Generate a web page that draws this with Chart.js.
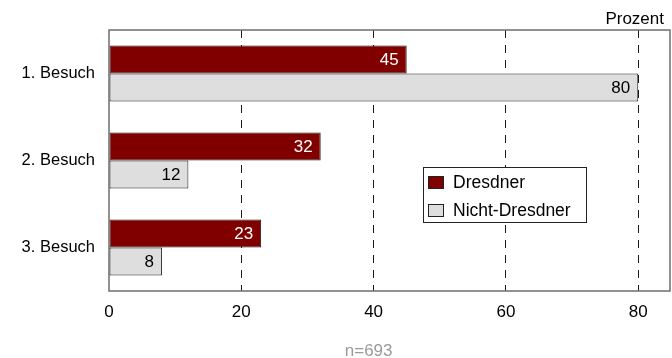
<!DOCTYPE html>
<html>
<head>
<meta charset="utf-8">
<script src="https://cdn.jsdelivr.net/npm/chart.js@4/dist/chart.umd.min.js"></script>
<style>
  html, body { margin: 0; padding: 0; background: #ffffff; }
  #wrap { width: 672px; height: 358px; }
</style>
</head>
<body>
<div id="wrap"><canvas id="c" width="672" height="358"></canvas></div>
<script>
const categories = ["1. Besuch", "2. Besuch", "3. Besuch"];
const dresdner = [45, 32, 23];
const nichtDresdner = [80, 12, 8];
const seriesNames = ["Dresdner", "Nicht-Dresdner"];
const xTickValues = [0, 20, 40, 60, 80];
const axisUnit = "Prozent";
const sampleNote = "n=693";

const FONT = "'Liberation Sans', Arial, Helvetica, sans-serif";
const FS = 17;

const framePlugin = {
  id: 'frame',
  afterDatasetsDraw(chart) {
    const { ctx, chartArea: a } = chart;
    ctx.save();
    ctx.strokeStyle = '#6e6e6e';
    ctx.lineWidth = 1.5;
    ctx.strokeRect(a.left, a.top, a.right - a.left, a.bottom - a.top);
    ctx.restore();
  }
};

const valueLabels = {
  id: 'valueLabels',
  afterDatasetsDraw(chart) {
    const { ctx } = chart;
    ctx.save();
    ctx.font = FS + 'px ' + FONT;
    ctx.textAlign = 'right';
    ctx.textBaseline = 'middle';
    chart.data.datasets.forEach((ds, di) => {
      const meta = chart.getDatasetMeta(di);
      meta.data.forEach((bar, i) => {
        ctx.fillStyle = di === 0 ? '#ffffff' : '#000000';
        ctx.fillText(String(ds.data[i]), bar.x - 8, bar.y + 1);
      });
    });
    ctx.restore();
  }
};

const extraText = {
  id: 'extraText',
  afterDraw(chart) {
    const { ctx } = chart;
    const xs = chart.scales.x;
    ctx.save();
    ctx.font = '17px ' + FONT;
    ctx.textBaseline = 'middle';
    ctx.fillStyle = '#000000';
    ctx.textAlign = 'right';
    ctx.fillText(axisUnit, 664, 19);
    ctx.fillStyle = '#9a9a9a';
    ctx.textAlign = 'center';
    ctx.fillText(sampleNote, xs.getPixelForValue(40) - 5, 351);

    // legend box
    const lx = 423, ly = 167, lw = 163, lh = 55;
    ctx.font = '17.5px ' + FONT;
    ctx.fillStyle = '#ffffff';
    ctx.fillRect(lx, ly, lw, lh);
    ctx.strokeStyle = '#222222';
    ctx.lineWidth = 1;
    ctx.strokeRect(lx + 0.5, ly + 0.5, lw, lh);
    ctx.textAlign = 'left';
    chart.data.datasets.forEach((ds, di) => {
      const cy = ly + 15 + di * 28;
      ctx.fillStyle = ds.backgroundColor;
      ctx.fillRect(lx + 5, cy - 6, 15, 12);
      ctx.strokeStyle = '#222222';
      ctx.strokeRect(lx + 5.5, cy - 5.5, 15, 12);
      ctx.fillStyle = '#000000';
      ctx.fillText(ds.label, lx + 30, cy + 1);
    });
    ctx.restore();
  }
};

new Chart(document.getElementById('c'), {
  type: 'bar',
  data: {
    labels: categories,
    datasets: [
      { label: seriesNames[0], data: dresdner, backgroundColor: '#800000', borderColor: '#1a1a1a', borderWidth: 1, borderSkipped: false },
      { label: seriesNames[1], data: nichtDresdner, backgroundColor: '#dedede', borderColor: '#1a1a1a', borderWidth: 1, borderSkipped: false }
    ]
  },
  options: {
    indexAxis: 'y',
    responsive: false,
    animation: false,
    devicePixelRatio: 1,
    layout: { padding: { top: 30, right: 2, left: 0, bottom: 0 } },
    datasets: { bar: { categoryPercentage: 0.644, barPercentage: 1.0 } },
    plugins: { legend: { display: false }, tooltip: { enabled: false }, title: { display: false } },
    scales: {
      x: {
        min: 0, max: 84.8,
        afterBuildTicks(scale) { scale.ticks = xTickValues.map(v => ({ value: v })); },
        afterFit(scale) { scale.height = 67; },
        grid: {
          color: (c) => c.tick && c.tick.value === 0 ? 'rgba(0,0,0,0)' : '#1a1a1a',
          lineWidth: 1,
          drawTicks: false
        },
        border: { display: false, dash: [8, 7] },
        ticks: { color: '#000000', font: { family: FONT, size: FS }, padding: 11, maxRotation: 0 }
      },
      y: {
        afterFit(scale) { scale.width = 109; },
        grid: { display: false, drawTicks: false },
        border: { display: false },
        ticks: { color: '#000000', font: { family: FONT, size: 16.5 }, padding: 14 }
      }
    }
  },
  plugins: [framePlugin, valueLabels, extraText]
});
</script>
</body>
</html>
